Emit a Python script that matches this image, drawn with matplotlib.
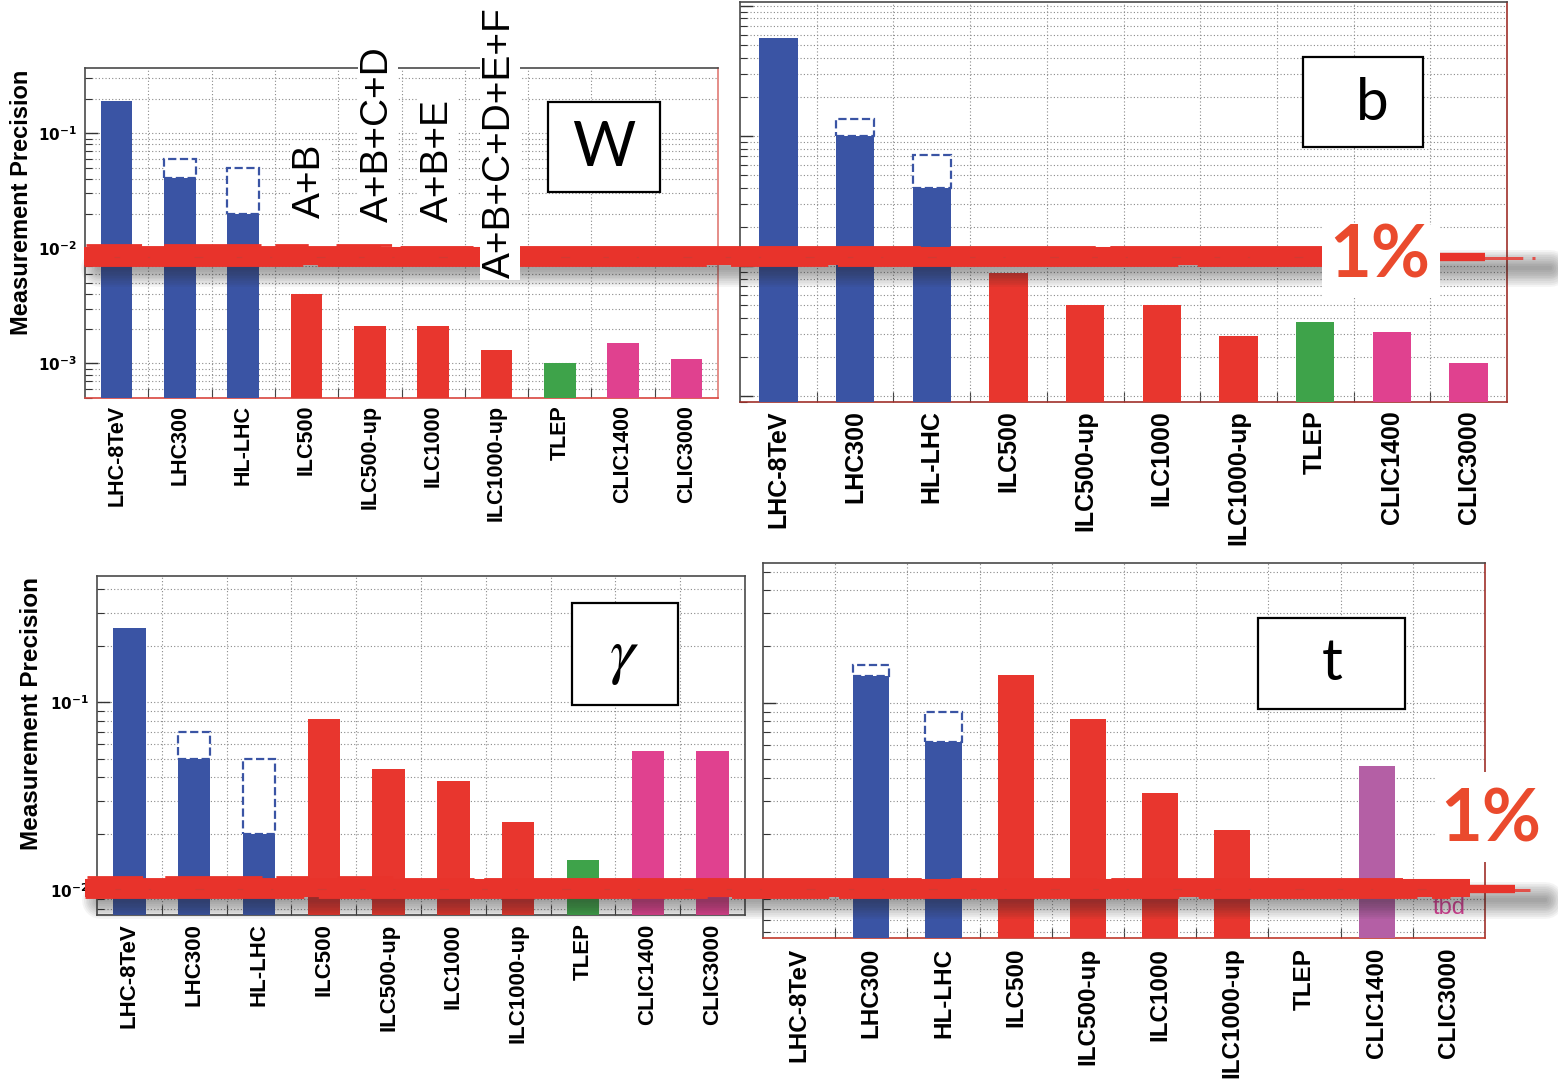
import numpy as np
import matplotlib
matplotlib.use('Agg')
import matplotlib.pyplot as plt
from matplotlib.patches import Rectangle
from matplotlib.lines import Line2D
from matplotlib import transforms
from matplotlib.ticker import LogLocator, NullFormatter, FixedLocator, FuncFormatter

W, H = 1558, 1080
nan = np.nan

categories = ['LHC-8TeV', 'LHC300', 'HL-LHC', 'ILC500', 'ILC500-up',
              'ILC1000', 'ILC1000-up', 'TLEP', 'CLIC1400', 'CLIC3000']

blue, red, green, pink, purple = '#3a54a4', '#e8362e', '#3ea34a', '#e0418f', '#b45fa5'
colors = [blue] * 3 + [red] * 4 + [green] + [pink] * 2
colors_t = [blue] * 3 + [red] * 4 + [green] + [purple, pink]

# coupling precisions (solid = optimistic, upper = pessimistic LHC range)
w_prec = [0.19, 0.041, 0.020, 0.0040, 0.0021, 0.0021, 0.0013, 0.0010, 0.0015, 0.0011]
w_upper = [nan, 0.060, 0.050, nan, nan, nan, nan, nan, nan, nan]

b_prec = [0.565, 0.10, 0.040, 0.0089, 0.0050, 0.0050, 0.0029, 0.0037, 0.0031, 0.0018]
b_upper = [nan, 0.135, 0.071, nan, nan, nan, nan, nan, nan, nan]

g_prec = [0.25, 0.050, 0.020, 0.082, 0.044, 0.038, 0.023, 0.0145, 0.055, 0.055]
g_upper = [nan, 0.070, 0.050, nan, nan, nan, nan, nan, nan, nan]

t_prec = [nan, 0.139, 0.062, 0.14, 0.082, 0.033, 0.021, nan, 0.046, nan]
t_upper = [nan, 0.159, 0.090, nan, nan, nan, nan, nan, nan, nan]

w_combos = ['A+B', 'A+B+C+D', 'A+B+E', 'A+B+C+D+E+F']

fig = plt.figure(figsize=(W / 100, H / 100), dpi=100)
fig.patch.set_facecolor('white')


def fx(x):
    return x / W


def fy(y):
    return 1 - y / H


def panel(box, prec, upper, ylim, cols, lab_size, lab_pad, ylabels, spine_cols):
    x0, y0, x1, y1 = box
    ax = fig.add_axes([fx(x0), fy(y1), (x1 - x0) / W, (y1 - y0) / H])
    ax.set_yscale('log')
    ymin = ylim[0]
    for i, v in enumerate(prec):
        if np.isnan(v):
            continue
        ax.bar(i, v - ymin, bottom=ymin, width=0.5, color=cols[i], zorder=3)
        if not np.isnan(upper[i]):
            ax.bar(i, upper[i] - v, bottom=v, width=0.5, facecolor='white',
                   edgecolor=cols[i], linestyle='--', linewidth=1.6, zorder=4)
    ax.set_xlim(-0.5, len(categories) - 0.5)
    ax.set_ylim(*ylim)

    ax.set_xticks(np.arange(len(categories)))
    ax.set_xticklabels(categories, rotation=90, fontsize=lab_size,
                       fontweight='bold', family='Liberation Sans')
    ax.tick_params(axis='x', which='major', length=0, pad=lab_pad)
    ax.xaxis.set_minor_locator(FixedLocator(np.arange(len(categories) - 1) + 0.5))
    ax.tick_params(axis='x', which='minor', direction='in', length=7,
                   color='#444444', width=0.8)

    ax.yaxis.set_major_locator(LogLocator(base=10))
    ax.yaxis.set_minor_locator(LogLocator(base=10, subs=np.arange(2, 10)))
    ax.yaxis.set_minor_formatter(NullFormatter())
    ax.tick_params(axis='y', which='major', direction='in', length=9, width=1,
                   color='#333333', pad=6)
    ax.tick_params(axis='y', which='minor', direction='in', length=5, width=0.8,
                   color='#333333')
    if ylabels:
        ax.yaxis.set_major_formatter(
            FuncFormatter(lambda v, p: r'$\mathbf{10^{%d}}$' % round(np.log10(v))))
        for lab in ax.get_yticklabels():
            lab.set_fontsize(11)
    else:
        ax.tick_params(axis='y', labelleft=False)

    ax.grid(True, which='both', axis='y', linestyle=(0, (1, 2)),
            color='#8a8a8a', linewidth=0.8, zorder=1)
    ax.grid(True, which='minor', axis='x', linestyle=(0, (1, 2)),
            color='#8a8a8a', linewidth=0.8, zorder=1)
    ax.set_axisbelow(True)

    for side, c in zip(['left', 'top', 'right', 'bottom'], spine_cols):
        ax.spines[side].set_color(c)
        ax.spines[side].set_linewidth(1.2)
    return ax


dark = '#4a4a4a'
ax_w = panel((85, 68, 718, 398), w_prec, w_upper, (5.0e-4, 0.37), colors, 15.5, 5, True,
             [dark, dark, '#e07a74', '#d9463e'])
ax_b = panel((740, 2, 1507, 402), b_prec, b_upper, (9.0e-4, 1.07), colors, 18, 6, False,
             [dark, dark, '#a0302a', '#a0302a'])
ax_g = panel((97, 576, 745, 915), g_prec, g_upper, (7.4e-3, 0.47), colors, 16, 6, True,
             [dark, dark, dark, dark])
ax_t = panel((763, 563, 1485, 938), t_prec, t_upper, (5.6e-3, 0.556), colors_t, 17.5, 7, False,
             [dark, dark, '#a0302a', '#c0392b'])

# y axis titles
fig.text(fx(22), fy(202), 'Measurement Precision', rotation=90, ha='center', va='center',
         fontsize=17, fontweight='bold', family='Liberation Sans')
fig.text(fx(32), fy(714), 'Measurement Precision', rotation=90, ha='center', va='center',
         fontsize=17.5, fontweight='bold', family='Liberation Sans')

# "tbd" for CLIC3000 top Yukawa
ax_t.text(9, 0.0081, 'tbd', color='#e0409a', fontsize=17, ha='center', va='center',
          family='Liberation Sans', zorder=5)


# hand-painted 1% band with a soft shadow
def stroke(yc, x0, x1, xs):
    y = fy(yc)
    for k in range(10):
        fig.add_artist(Line2D([fx(x0 + 15), fx(xs)], [fy(yc + 12)] * 2,
                              lw=3 + 2.6 * k, color='#2a2a2a', alpha=0.05,
                              solid_capstyle='round', zorder=5))
    red_c = '#e8332b'
    fig.add_artist(Line2D([fx(x0), fx(x1)], [y, y], lw=13, color=red_c,
                          solid_capstyle='butt', zorder=6))
    # ragged edges of the brush
    fig.add_artist(Line2D([fx(x0 + 5), fx(x1 - 60)], [fy(yc - 8)] * 2, lw=3.5,
                          color=red_c, linestyle=(0, (60, 4, 15, 2, 90, 6, 30, 3)),
                          zorder=6))
    fig.add_artist(Line2D([fx(x0), fx(x1 - 20)], [fy(yc + 8)] * 2, lw=3.5,
                          color=red_c, linestyle=(0, (45, 3, 80, 5, 20, 2, 70, 4)),
                          zorder=6))
    fig.add_artist(Line2D([fx(x0 + 2), fx(x0 + 320)], [fy(yc - 11)] * 2, lw=2,
                          color=red_c, linestyle=(0, (20, 8, 35, 5, 12, 10)), zorder=6))
    fig.add_artist(Line2D([fx(x0 + 30), fx(x1 - 40)], [fy(yc + 1)] * 2, lw=0.8,
                          color='#c24038', alpha=0.6, linestyle=(0, (5, 25, 2, 40, 8, 30)),
                          zorder=6))
    # thinner end where the brush lifts off
    fig.add_artist(Line2D([fx(x1 - 5), fx(x1 + 45)], [fy(yc + 1)] * 2, lw=6,
                          color=red_c, linestyle=(0, (20, 2, 12, 3)), zorder=6))
    fig.add_artist(Line2D([fx(x1 + 40), fx(xs - 15)], [fy(yc + 2)] * 2, lw=2.2,
                          color=red_c, alpha=0.8, linestyle=(0, (14, 3, 6, 4, 2, 5)),
                          zorder=6))


stroke(256, 84, 1440, 1550)
stroke(888, 85, 1470, 1545)


def boxed(x0, y0, x1, y1, edge):
    r = Rectangle((fx(x0), fy(y1)), (x1 - x0) / W, (y1 - y0) / H, transform=fig.transFigure,
                  facecolor='white', edgecolor=edge, linewidth=1.6 if edge != 'none' else 0,
                  zorder=7)
    fig.add_artist(r)


# particle labels
boxed(548, 102, 660, 192, 'black')
fig.text(fx(604), fy(149), 'W', fontsize=44, family='Lato', ha='center', va='center', zorder=8)
boxed(1303, 57, 1423, 147, 'black')
fig.text(fx(1372), fy(104), 'b', fontsize=42, family='Lato', ha='center', va='center', zorder=8)
boxed(572, 603, 678, 705, 'black')
fig.text(fx(624), fy(656), r'$\gamma$', fontsize=46, math_fontfamily='stix',
         ha='center', va='center', zorder=8)
boxed(1258, 618, 1405, 709, 'black')
fig.text(fx(1332), fy(664), 't', fontsize=42, family='Lato', ha='center', va='center', zorder=8)

# 1% markers
boxed(1322, 225, 1440, 298, 'none')
fig.text(fx(1380), fy(257), '1%', fontsize=52, family='Lato', fontweight='bold',
         color='#ea4a2d', ha='center', va='center', zorder=8)
boxed(1436, 772, 1548, 862, 'none')
fig.text(fx(1491), fy(821), '1%', fontsize=52, family='Lato', fontweight='bold',
         color='#ea4a2d', ha='center', va='center', zorder=8)

# coupling combinations used for the W precision
blend = transforms.blended_transform_factory(ax_w.transData, fig.transFigure)
combo_x = [3.06, 4.13, 5.08, 6.06]
combo_y = [218, 222, 222, 278]
for s, xc, yb in zip(w_combos, combo_x, combo_y):
    fig.text(xc, fy(yb), s, transform=blend, rotation=90, ha='center', va='bottom',
             fontsize=28, family='Liberation Sans', zorder=8,
             bbox=dict(facecolor='white', edgecolor='none', boxstyle='square,pad=0.05'))

fig.savefig('out.png', dpi=100, facecolor='white')
